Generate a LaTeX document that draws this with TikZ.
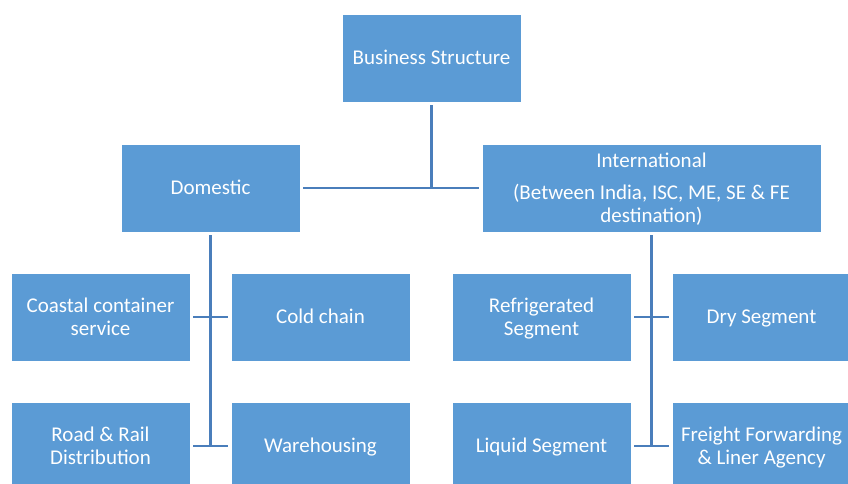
\documentclass[tikz,border=0pt]{standalone}
\usepackage{fontspec}
\setmainfont{Carlito}
\definecolor{boxblue}{HTML}{5B9BD5}
\definecolor{lineblue}{HTML}{4A7EBB}
\newcommand\mys{\rule[-4.75pt]{0pt}{23pt}}
\begin{document}
\begin{tikzpicture}[x=1pt,y=-1pt,
  box/.style={rectangle, fill=boxblue, draw=white, line width=0.6pt, inner sep=0pt,
    minimum width=179pt, minimum height=88pt, text=white, align=center,
    font=\fontsize{21}{23}\selectfont},
  conn/.style={draw=lineblue, line width=2.6pt}]
\clip (0,0) rectangle (848,483);
\fill[white] (0,0) rectangle (848,483);
\node[box] (bs) at (431.5,58) {\mys Business Structure};
\node[box] (dom) at (210.5,188) {\mys Domestic};
\node[box, minimum width=339pt] (intl) at (651.5,188) {\mys International\\[9pt]\mys(Between India, ISC, ME, SE \& FE\\\mys destination)};
\node[box] (cc) at (100.5,317) {\mys Coastal container\\\mys service};
\node[box] (cold) at (320.5,317) {\mys Cold chain};
\node[box] (rr) at (100.5,446) {\mys Road \& Rail\\\mys Distribution};
\node[box] (ware) at (320.5,446) {\mys Warehousing};
\node[box] (refr) at (541.5,317) {\mys Refrigerated\\\mys Segment};
\node[box] (dry) at (761.5,317) {\mys Dry Segment};
\node[box] (liq) at (541.5,446) {\mys Liquid Segment};
\node[box] (ff) at (761.5,446) {\mys Freight Forwarding\\\mys\& Liner Agency};
\draw[conn] ([yshift=-3pt]bs.south) -- (bs.south |- dom.east);
\draw[conn] ([xshift=3pt]dom.east) -- ([xshift=-3pt]intl.west);
\draw[conn] ([yshift=-3pt]dom.south) -- (dom.south |- rr.east);
\draw[conn] ([xshift=3pt]cc.east) -- ([xshift=-3pt]cold.west);
\draw[conn] ([xshift=3pt]rr.east) -- ([xshift=-3pt]ware.west);
\draw[conn] ([yshift=-3pt]intl.south) -- (intl.south |- liq.east);
\draw[conn] ([xshift=3pt]refr.east) -- ([xshift=-3pt]dry.west);
\draw[conn] ([xshift=3pt]liq.east) -- ([xshift=-3pt]ff.west);
\end{tikzpicture}
\end{document}
